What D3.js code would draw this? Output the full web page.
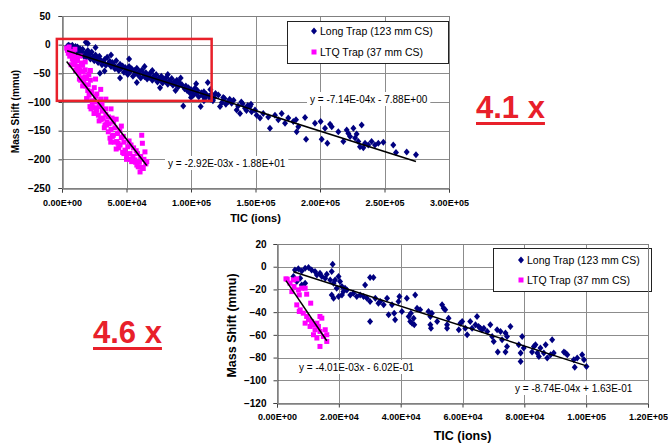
<!DOCTYPE html>
<html>
<head>
<meta charset="utf-8">
<script src="https://cdn.jsdelivr.net/npm/d3@7"></script>
<style>
body { margin: 0; background: #fff; }
svg { display: block; font-family: Arial, "Liberation Sans", sans-serif; }
.grid line { stroke: #8c8c8c; stroke-width: 1; }
.axis path, .axis line { stroke: #404040; }
.axis text { font-weight: bold; fill: #000; }
</style>
</head>
<body>
<script>
// long trap (123 mm CS) and LTQ trap (37 mm CS), [TIC, mass shift mmu]
var longTop = [
	[4000,-3],[4900,-1],[5000,-8],[6000,-2],[6500,-12],[7000,-5],[8000,-1],[8500,-10],[9000,-6],[10000,-14],
	[10500,-3],[11000,-9],[12000,-4],[12500,-16],[13000,-11],[14000,-7],[15000,-18],[15500,-12],[16000,-8],[17000,-20],
	[18400,4],[18500,-14],[19000,-22],[20000,-10],[21000,-17],[22000,-25],[23000,-13],[24000,-21],[25000,-28],[26000,-18],
	[27000,-24],[28000,-31],[29000,-20],[29400,-50],[30000,-27],[31000,-35],[32000,-30],[33000,-26],[34000,-36],[35000,-22],
	[36000,-33],[37000,-29],[38000,-38],[39000,-31],[40000,-35],[41000,-42],[42000,-28],[43000,-39],[44000,-45],[45000,-34],
	[46000,-41],[47000,-37],[48000,-48],[49000,-40],[50000,-44],[51000,-52],[52000,-38],[53000,-47],[54000,-42],[55000,-55],
	[56000,-45],[57000,-50],[58000,-41],[59000,-53],[60000,-47],[61000,-58],[62000,-44],[63000,-51],[64000,-56],[65000,-49],
	[66000,-60],[67000,-53],[68000,-57],[69000,-48],[70000,-62],[71000,-55],[72000,-59],[73000,-52],[74000,-65],[75000,-58],
	[76000,-61],[77000,-55],[78000,-67],[79000,-60],[80000,-64],[81000,-57],[82000,-69],[83000,-63],[84000,-66],[85000,-59],
	[86000,-71],[87000,-65],[88000,-68],[89000,-62],[90000,-74],[91000,-66],[93000,-70],[94000,-107],[95000,-77],[96000,-72],
	[97000,-80],[98000,-75],[99000,-84],[100000,-78],[101000,-82],[102000,-88],[103000,-76],[104000,-85],[105000,-80],[106000,-91],
	[107500,-108],[108000,-84],[109000,-89],[110000,-82],[111000,-93],[112000,-87],[113000,-66],[114000,-90],[115000,-95],[116000,-86],
	[117000,-98],[118000,-92],[119000,-85],[121200,-88],[122500,-108],[124000,-101],[125000,-92],[126000,-94],[127000,-104],[128900,-99],
	[130000,-95],[131500,-102],[133000,-97],[135400,-114],[136500,-107],[138000,-120],[139000,-100],[140000,-103],[141900,-111],[143000,-115],
	[144000,-106],[145700,-108],[146500,-104],[147000,-117],[149600,-114],[150900,-123],[153500,-128],[156000,-120],[159900,-126],[161200,-146],
	[165100,-123],[167700,-131],[170300,-120],[172900,-137],[175400,-128],[179300,-134],[181400,-131],[181900,-152],[183200,-143],[188400,-127],
	[189200,-165],[196100,-137],[200500,-134],[201300,-165],[203900,-146],[205700,-172],[207800,-139],[209100,-143],[214200,-152],[218100,-169],
	[220700,-149],[222000,-155],[223300,-160],[225900,-146],[227200,-163],[228400,-156],[229700,-169],[231000,-178],[232300,-140],[233600,-180],
	[234900,-172],[237400,-175],[240000,-169],[242600,-175],[245200,-172],[249100,-170],[256800,-175],[258900,-188],[267200,-187],[274400,-192],
	[12000,-22],[20000,2],[26000,-5],[33000,-46],[38000,-18],[45000,-58],[52000,-25],[58000,-66],[64000,-38],[70000,-45],
	[76000,-75],[82000,-52],[88000,-80],[92000,-58],[100000,-92],[104000,-68],[110000,-98],[115000,-78]
];
var ltqTop = [
	[3600,-6],[4200,-10],[4900,-15],[5500,-4],[6000,-20],[6500,-12],[7500,-18],[8000,-25],[8800,-27],[9500,-35],
	[10100,-30],[11000,-22],[11500,-42],[12700,-38],[13200,-50],[14000,-44],[15000,-32],[15200,-58],[16500,-47],[17000,-65],
	[17800,-56],[18500,-72],[19100,-59],[19100,-94],[20000,-80],[20400,-70],[21000,-88],[21700,-108],[22000,-62],[23000,-82],
	[23500,-98],[24300,-99],[25000,-75],[25500,-110],[26000,-90],[26900,-114],[27500,-100],[28200,-123],[29000,-108],[30000,-95],
	[30500,-130],[31200,-116],[32000,-128],[32800,-145],[33300,-140],[34000,-122],[34800,-135],[35900,-152],[36500,-138],[37200,-163],
	[38000,-148],[38800,-128],[39800,-158],[40500,-170],[41000,-145],[42400,-169],[43000,-155],[44000,-180],[45000,-175],[46000,-162],
	[47000,-188],[48000,-170],[48800,-184],[50100,-192],[51000,-178],[52700,-190],[53500,-175],[54000,-204],[55000,-195],[56600,-201],
	[57500,-185],[58000,-210],[59100,-213],[60500,-222],[61000,-195],[61800,-158],[62300,-172],[63000,-216],[63500,-200],[64300,-187],
	[65000,-208],[65700,-204],[9000,-16],[12000,-28],[14500,-62],[16000,-36],[18000,-44],[20800,-52],[22500,-112],[24800,-120],
	[27000,-86],[28800,-133],[31000,-104],[33800,-112],[36000,-126],[37800,-170],[40000,-135],[42000,-182],[44800,-150],[47500,-160],
	[50000,-200],[52000,-168],[55500,-180],[58500,-190],[60000,-205],[62000,-214],
	[7000,-35],[10500,-45],[13500,-60],[16000,-72],[19500,-96],[23500,-105],[26500,-118],[30000,-130],[34500,-140],[39000,-160],
	[43500,-172],[48000,-190],[52500,-200],[57000,-205],[10000,-8],[14000,-20],[18000,-30],[22000,-45],[26000,-60],[30000,-78],
	[34000,-95],[38000,-112],[42000,-130],[46000,-142]
];
var longBot = [
	[5300,-8.7],[5800,-2.8],[6400,-13.1],[6900,-1.9],[7500,-10.1],[8000,-3.7],[8000,-16],[9100,-1.3],[9100,-14.5],[10200,-0.8],
	[11200,-2.8],[12300,-4.3],[12900,-7.2],[13900,-5.7],[14500,-8.7],[15600,-10.1],[16100,-6.6],[17200,-11.6],[17700,-4.3],[17700,-24.8],
	[18000,2.2],[18300,-14.5],[18300,-27.7],[18800,-11.6],[19300,-18.9],[19900,-8.7],[19900,-26.2],[20400,-13.1],[21000,-17.5],[21000,-24.8],
	[21500,-21.9],[22000,-18.9],[22600,-20.4],[23700,-24.8],[24700,-23.3],[25800,-26.2],[26900,-24.8],[28000,-26.2],[28500,-16],[29100,-27.7],
	[30100,-9.6],[30100,-30.6],[30100,-48.2],[31200,-9.6],[31800,-27.7],[32800,-32.1],[33400,-30.6],[34500,-33.6],[35600,-27.7],[36100,-42.4],
	[37200,-33.6],[37900,-40.9],[38200,-46.7],[39300,-30.6],[39600,-26.2],[40400,-39.4],[42000,-27.7],[42600,-43.8],[43100,-48.2],[43300,-40.9],
	[43700,-49.7],[44200,-45.3],[44400,-51.1],[44700,-24.8],[45300,-36.5],[46300,-38],[49000,-39.4],[49600,-43.8],[49600,-51.1],[49800,-54.1],
	[50100,-40.9],[51800,-48.2],[53400,-33.6],[53900,-36.5],[54400,-38],[55000,-54.1],[55000,-51.1],[55500,-45.3],[58800,-55.5],[59300,-49.7],
	[59900,-48.2],[60900,-54.1],[61500,-59.9],[62500,-48.2],[63100,-54.1],[64200,-51.1],[64700,-43.8],[65200,-52.6],[65800,-54.1],[66300,-55.5],
	[66900,-54.1],[68000,-57],[69000,-51.1],[69600,-61.4],[70100,-65.8],[71200,-55.5],[71400,-75.1],[72300,-57],[72800,-64.3],[73900,-58.4],
	[73900,-75.1],[74400,-61.4],[74400,-70.2],[75500,-52.6],[78200,-68.7],[78800,-83.4],[78800,-76],[79300,-61.4],[79800,-71.6],[82500,-75.1],
	[83100,-70.2],[83600,-68.7],[84200,-76],[84700,-79],[85200,-71.6],[86300,-76],[86900,-68.7],[87400,-80.4],[88500,-77.5],[89000,-64.3],
	[89500,-76],[92800,-75.1],[93300,-76],[93900,-77.5],[96000,-81.9],[96300,-88.6],[97100,-80.4],[98700,-77.5],[99300,-81.9],[100100,-87.8]
];
var ltqBot = [
	[2900,-10.7],[3300,-11],[4200,-14.5],[4800,-21.9],[5300,-11.6],[5500,-17.5],[6400,-10.7],[6400,-33.6],[6900,-20.4],[7200,-24.8],
	[7200,-39.4],[7500,-38],[8000,-18.9],[8500,-40.9],[9100,-18.9],[9100,-49.7],[9600,-24.2],[9600,-43.8],[10200,-46.7],[10700,-52.6],
	[10900,-32.1],[11200,-48.2],[11800,-51.1],[11800,-59.9],[12300,-55.5],[12900,-49.7],[12900,-62.8],[13400,-52.6],[13900,-43.8],[13900,-57],
	[13900,-70.2],[14500,-45.3],[15000,-61.4],[15600,-55.5],[16100,-59.9],[16100,-65.8]
];

// linear trendlines [slope, intercept] and their labels
var fitLongTop = [-7.14e-4, -7.88], fitLtqTop = [-2.92e-3, -18.8];
var fitLongBot = [-8.74e-4, 0.163], fitLtqBot = [-4.01e-3, -0.602];
var eqLongTop = "y = -7.14E-04x - 7.88E+00", eqLtqTop = "y = -2.92E-03x - 1.88E+01";
var eqLongBot = "y = -8.74E-04x + 1.63E-01", eqLtqBot = "y = -4.01E-03x - 6.02E-01";

var seriesNames = ["Long Trap (123 mm CS)", "LTQ Trap (37 mm CS)"];

var topXTicks = [0, 50000, 100000, 150000, 200000, 250000, 300000];
var topXLabels = ["0.00E+00","5.00E+04","1.00E+05","1.50E+05","2.00E+05","2.50E+05","3.00E+05"];
var topYTicks = [50, 0, -50, -100, -150, -200, -250];
var botXTicks = [0, 20000, 40000, 60000, 80000, 100000, 120000];
var botXLabels = ["0.00E+00","2.00E+04","4.00E+04","6.00E+04","8.00E+04","1.00E+05","1.20E+05"];
var botYTicks = [20, 0, -20, -40, -60, -80, -100, -120];

var navy = "#000080", pink = "#ff00ff", red = "#e8202a";
var diamond = "M0,-3.5L3,0L0,3.5L-3,0Z";

var svg = d3.select("body").append("svg")
	.attr("width", 668).attr("height", 443);
svg.append("rect").attr("width", 668).attr("height", 443).attr("fill", "#fff");

function makeChart(c) {
	var x = d3.scaleLinear().domain([c.xTicks[0], c.xTicks[c.xTicks.length-1]]).range([c.left, c.right]);
	var y = d3.scaleLinear().domain([c.yTicks[c.yTicks.length-1], c.yTicks[0]]).range([c.bottom, c.top]);
	var g = svg.append("g");

	var grid = g.append("g").attr("class", "grid");
	grid.selectAll(".gx").data(c.xTicks).enter().append("line")
		.attr("x1", function(d) { return Math.round(x(d)) + 0.5; })
		.attr("x2", function(d) { return Math.round(x(d)) + 0.5; })
		.attr("y1", c.top).attr("y2", c.bottom);
	grid.selectAll(".gy").data(c.yTicks).enter().append("line")
		.attr("y1", function(d) { return Math.round(y(d)) + 0.5; })
		.attr("y2", function(d) { return Math.round(y(d)) + 0.5; })
		.attr("x1", c.left).attr("x2", c.right);

	g.append("g").attr("class", "axis")
		.attr("transform", "translate(0," + (Math.round(c.bottom) + 0.5) + ")")
		.call(d3.axisBottom(x).tickValues(c.xTicks).tickSizeOuter(0).tickSize(4).tickPadding(c.xPad)
			.tickFormat(function(d, i) { return c.xLabels[i]; }))
		.selectAll("text").style("font-size", "9px");
	g.append("g").attr("class", "axis")
		.attr("transform", "translate(" + (Math.round(c.left) + 0.5) + ",0)")
		.call(d3.axisLeft(y).tickValues(c.yTicks).tickSizeOuter(0).tickSize(4).tickPadding(c.yPad))
		.selectAll("text").style("font-size", "10px");

	// legend
	var lg = g.append("g");
	lg.append("rect").attr("x", c.legend[0] + 0.5).attr("y", c.legend[1] + 0.5)
		.attr("width", c.legend[2]).attr("height", c.legend[3])
		.attr("fill", "#fff").attr("stroke", "#222");
	lg.append("path").attr("d", diamond).attr("fill", navy)
		.attr("transform", "translate(" + c.legendMark + "," + c.legendRows[0] + ")");
	lg.append("rect").attr("x", c.legendMark - 2.5).attr("y", c.legendRows[1] - 2.5)
		.attr("width", 5).attr("height", 5).attr("fill", pink);
	lg.selectAll("text").data(seriesNames).enter().append("text")
		.attr("x", c.legendMark + 6)
		.attr("y", function(d, i) { return c.legendRows[i] + 3.8; })
		.style("font-size", "10.5px")
		.text(function(d) { return d; });

	// points
	g.append("g").selectAll("path").data(c.long).enter().append("path")
		.attr("d", diamond).attr("fill", navy)
		.attr("transform", function(d) { return "translate(" + x(d[0]) + "," + y(d[1]) + ")"; });
	g.append("g").selectAll("rect").data(c.ltq).enter().append("rect")
		.attr("x", function(d) { return x(d[0]) - 2.5; })
		.attr("y", function(d) { return y(d[1]) - 2.5; })
		.attr("width", 5).attr("height", 5).attr("fill", pink);

	// trendlines across each series' range
	[[c.long, c.longFit], [c.ltq, c.ltqFit]].forEach(function(s) {
		var ext = d3.extent(s[0], function(d) { return d[0]; });
		g.append("line")
			.attr("x1", x(ext[0])).attr("y1", y(s[1][0] * ext[0] + s[1][1]))
			.attr("x2", x(ext[1])).attr("y2", y(s[1][0] * ext[1] + s[1][1]))
			.attr("stroke", "#000").attr("stroke-width", 1.5);
	});

	// equation labels
	c.eqs.forEach(function(e) {
		var eg = g.append("g");
		var bg = eg.append("rect").attr("fill", "#fff");
		var t = eg.append("text").attr("x", e[1]).attr("y", e[2] + 3.5)
			.style("font-size", "10px").text(e[0]);
		var w = t.node().getComputedTextLength();
		bg.attr("x", e[1] - 3).attr("y", e[2] - 7).attr("width", w + 6).attr("height", 14);
	});

	// axis titles
	g.append("text").attr("transform", "translate(" + c.yTitle[0] + "," + c.yTitle[1] + ") rotate(-90)")
		.attr("text-anchor", "middle").style("font-weight", "bold").style("font-size", c.yTitle[2] + "px")
		.text("Mass Shift (mmu)");
	g.append("text").attr("x", (c.left + c.right) / 2).attr("y", c.xTitle[0])
		.attr("text-anchor", "middle").style("font-weight", "bold").style("font-size", c.xTitle[1] + "px")
		.text("TIC (ions)");

	// frame
	g.append("rect").attr("x", Math.round(c.left) + 0.5).attr("y", Math.round(c.top) + 0.5)
		.attr("width", Math.round(c.right) - Math.round(c.left)).attr("height", Math.round(c.bottom) - Math.round(c.top))
		.attr("fill", "none").attr("stroke", "#808080");

	return {x: x, y: y, g: g};
}

var topChart = makeChart({
	left: 62, right: 449, top: 16, bottom: 188,
	xTicks: topXTicks, xLabels: topXLabels, yTicks: topYTicks, xPad: 7, yPad: 8,
	long: longTop, ltq: ltqTop, longFit: fitLongTop, ltqFit: fitLtqTop,
	legend: [287, 21, 161, 42], legendMark: 314, legendRows: [31, 52],
	eqs: [[eqLongTop, 310, 99], [eqLtqTop, 168, 163]],
	yTitle: [18.5, 111.5, 10], xTitle: [222, 11]
});

// zoomed region marked on the top chart
topChart.g.append("rect")
	.attr("x", topChart.x(-4000)).attr("y", topChart.y(10))
	.attr("width", topChart.x(116000) - topChart.x(-4000)).attr("height", topChart.y(-98) - topChart.y(10))
	.attr("fill", "none").attr("stroke", red).attr("stroke-width", 2.5);

makeChart({
	left: 277, right: 648, top: 244, bottom: 403,
	xTicks: botXTicks, xLabels: botXLabels, yTicks: botYTicks, xPad: 6, yPad: 7,
	long: longBot, ltq: ltqBot, longFit: fitLongBot, ltqFit: fitLtqBot,
	legend: [493, 248, 158, 43], legendMark: 521, legendRows: [260, 280],
	eqs: [[eqLtqBot, 299, 367], [eqLongBot, 515, 388]],
	yTitle: [236, 325.5, 12.5], xTitle: [439.5, 12.5]
});

// gain factors
[["4.1 x", 476, 118], ["4.6 x", 93, 343]].forEach(function(f) {
	var t = svg.append("text").attr("x", f[1]).attr("y", f[2])
		.attr("fill", red).style("font-weight", "bold").style("font-size", "31px").text(f[0]);
	var w = t.node().getComputedTextLength();
	svg.append("rect").attr("x", f[1]).attr("y", f[2] + 4).attr("width", w).attr("height", 3).attr("fill", red);
});
</script>
</body>
</html>
